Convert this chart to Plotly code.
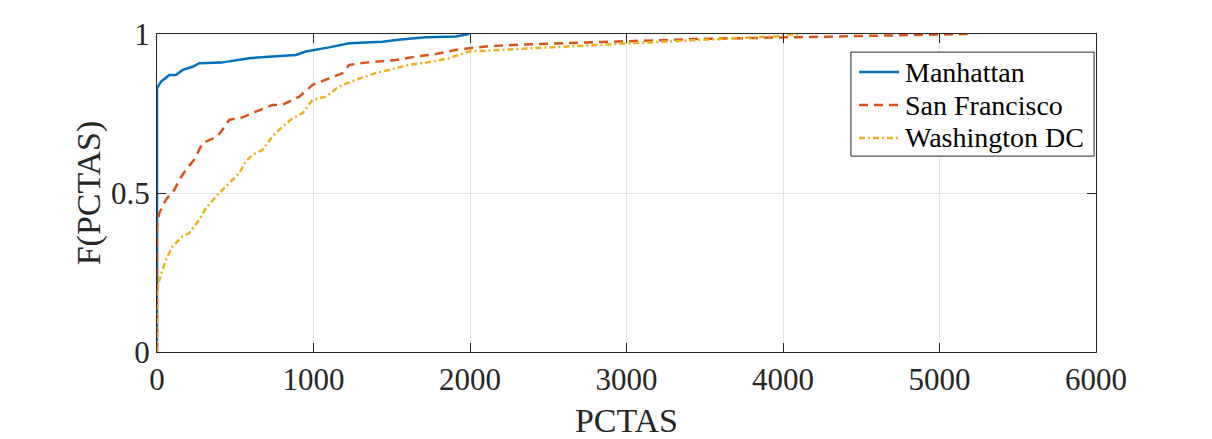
import plotly.graph_objects as go

# CDF samples (PCTAS, F(PCTAS))
manhattan_x = [0, 0, 26, 79, 121, 164, 228, 270, 409, 504, 589, 738, 887, 951,
               1015, 1100, 1228, 1440, 1526, 1717, 1909, 1994]
manhattan_y = [0, 0.83, 0.85, 0.871, 0.871, 0.887, 0.897, 0.908, 0.91, 0.918, 0.924,
               0.929, 0.934, 0.945, 0.95, 0.958, 0.971, 0.976, 0.981, 0.99, 0.992, 1.0]

sf_x = [0, 0, 15, 57, 111, 143, 185, 238, 291, 387, 462, 547, 632, 738, 802, 909,
        994, 1100, 1185, 1228, 1334, 1526, 1653, 1781, 1909, 1994, 2126, 2342, 2611,
        2987, 3420, 3962, 4503, 5180]
sf_y = [0, 0.395, 0.437, 0.479, 0.51, 0.542, 0.573, 0.605, 0.657, 0.678, 0.73, 0.738,
        0.756, 0.777, 0.777, 0.803, 0.84, 0.861, 0.877, 0.903, 0.91, 0.918, 0.929,
        0.937, 0.95, 0.955, 0.962, 0.967, 0.972, 0.977, 0.984, 0.989, 0.993, 1.0]

dc_x = [0, 0, 15, 57, 100, 164, 206, 270, 313, 398, 462, 526, 568, 611, 674, 738, 802,
        866, 930, 994, 1079, 1164, 1270, 1398, 1483, 1611, 1760, 1866, 1994, 2178,
        2611, 2987, 3420, 3962, 4096]
dc_y = [0, 0.186, 0.228, 0.29, 0.333, 0.364, 0.374, 0.416, 0.453, 0.5, 0.531, 0.563,
        0.6, 0.62, 0.636, 0.678, 0.709, 0.735, 0.751, 0.793, 0.803, 0.835, 0.856, 0.877,
        0.887, 0.903, 0.913, 0.924, 0.945, 0.95, 0.961, 0.97, 0.98, 0.993, 1.0]

series_names = ['Manhattan', 'San Francisco', 'Washington DC']
series_colors = ['#0072BD', '#D95319', '#EDB120']
series_dash = ['solid', '9px,6px', '6px,3px,2px,3px']
x_ticks = [0, 1000, 2000, 3000, 4000, 5000, 6000]
y_ticks = [0, 0.5, 1]
y_tick_text = ['0', '0.5', '1']

FONT = 'Liberation Serif'
INK = '#262626'

fig = go.Figure()
for xs, ys, name, col, dash in zip([manhattan_x, sf_x, dc_x], [manhattan_y, sf_y, dc_y],
                                   series_names, series_colors, series_dash):
    fig.add_trace(go.Scatter(x=xs, y=ys, mode='lines', name=name, showlegend=False,
                             line=dict(color=col, width=2.5, dash=dash)))

axis_common = dict(showline=True, linecolor=INK, linewidth=1, mirror='ticks',
                   ticks='inside', ticklen=9, tickcolor=INK, automargin=False,
                   showgrid=True, gridcolor='#e3e3e3', gridwidth=1, zeroline=False,
                   tickfont=dict(family=FONT, size=31, color=INK))

fig.update_xaxes(range=[0, 6000], tickvals=x_ticks,
                 title=dict(text='PCTAS', font=dict(family=FONT, size=34, color=INK), standoff=12),
                 **axis_common)
fig.update_yaxes(range=[0, 1], tickvals=y_ticks, ticktext=y_tick_text,
                 title=dict(text='F(PCTAS)', font=dict(family=FONT, size=34, color=INK), standoff=0),
                 **axis_common)

# MATLAB-style legend box drawn in paper coordinates
fig.add_shape(type='rect', xref='paper', yref='paper', x0=0.739, x1=0.998, y0=0.616, y1=0.943,
              line=dict(color=INK, width=1), fillcolor='white', layer='above')
row_y = [0.8805, 0.7767, 0.673]
for ry, name, col, dash in zip(row_y, series_names, series_colors, series_dash):
    fig.add_shape(type='line', xref='paper', yref='paper', x0=0.7476, x1=0.7902, y0=ry, y1=ry,
                  line=dict(color=col, width=2.5, dash=dash), layer='above')
    fig.add_annotation(xref='paper', yref='paper', x=0.7945, y=ry, text=name, showarrow=False,
                       xanchor='left', yanchor='middle',
                       font=dict(family=FONT, size=28, color='black'))

fig.update_layout(width=1212, height=439,
                  margin=dict(l=157, r=116, t=34, b=87),
                  paper_bgcolor='white', plot_bgcolor='white')

# drop the page's default body margin so the figure sits at the window origin
fig.write_html('out.html', config={'displayModeBar': False},
               post_script="document.body.style.margin='0';")
